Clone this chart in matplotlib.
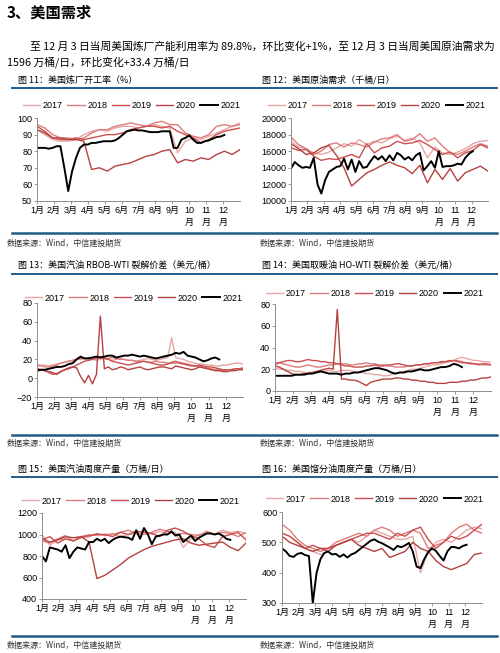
import numpy as np
import matplotlib; matplotlib.use("Agg")
import matplotlib.pyplot as plt
from matplotlib.lines import Line2D

plt.rcParams['font.family'] = ['Liberation Sans', 'Noto Sans CJK SC']
CJK = ['Noto Sans CJK SC', 'DejaVu Sans']

W, H = 500, 653
YEARS  = ["2017", "2018", "2019", "2020", "2021"]
COLORS = ["#E8A7A7", "#DF7B7B", "#C9504E", "#B5423F", "#000000"]
MONTHS = ["1月", "2月", "3月", "4月", "5月", "6月", "7月", "8月", "9月", "10\n月", "11\n月", "12\n月"]
RULE = "#1F5C8B"

# ─── Fig 11: refinery utilisation (%) ─ biweekly history, weekly 2021 ────────
util17 = [93, 90, 87, 86, 86, 87, 90, 92, 93, 92, 94, 95, 95, 94, 95, 96, 95, 94, 79, 86, 88, 87, 89, 91, 93, 95, 97]
util18 = [96, 94, 90, 88, 88, 87, 88, 91, 93, 93, 95, 96, 97, 96, 95, 97, 98, 96, 96, 91, 89, 88, 90, 95, 96, 95, 96]
util19 = [95, 92, 88, 87, 87, 88, 87, 88, 89, 90, 90, 91, 93, 94, 95, 95, 94, 95, 92, 90, 88, 85, 87, 90, 92, 93, 94]
util20 = [93, 91, 88, 88, 87, 87, 86, 69, 70, 68, 71, 72, 73, 75, 77, 78, 80, 81, 73, 75, 74, 76, 75, 78, 80, 78, 81]
util21 = [82, 82, 82, 81.5, 82, 83, 83, 70, 56, 68, 76, 82, 84, 84, 85, 85, 85.5, 86, 86, 86,
          86.5, 88, 90, 92, 92.5, 93, 92.5, 92.5, 92, 91.5, 91.5, 91.5, 92, 92, 92, 82, 82, 87, 88,
          89.5, 87, 85, 85, 86, 86.5, 87.5, 88.5, 88.8, 89.8]

# ─── Fig 12: crude demand (kb/d) ─────────────────────────────────────────────
dem17 = [17200, 16500, 16300, 15800, 15600, 15900, 16400, 16900, 16600, 17400, 16800, 17200, 17000, 17500,
         17800, 17300, 17600, 17000, 15200, 16500, 15800, 15600, 15900, 16300, 16900, 17200, 17300]
dem18 = [17700, 16800, 16300, 15600, 16000, 16800, 17000, 16500, 17000, 16800, 16500, 17100, 17500, 17600,
         18000, 17200, 17400, 18100, 17200, 17600, 16600, 15800, 15600, 16000, 16500, 16900, 16600]
dem19 = [16400, 16100, 16200, 15400, 14900, 15100, 15000, 15300, 15600, 15200, 16900, 15800, 16400, 16600,
         17200, 16900, 17000, 17300, 16800, 16200, 15600, 15900, 15200, 15800, 16100, 16800, 16400]
dem20 = [16900, 16300, 15600, 15800, 16400, 16700, 15500, 14000, 11800, 12600, 13400, 13800, 14300, 14700,
         14300, 14000, 13300, 14300, 12200, 13800, 12600, 13900, 12400, 13400, 13800, 14200, 13600]
dem21 = [13900, 14700, 14300, 14000, 14100, 14000, 15200, 12000, 10900, 12500, 13500, 13800, 14100, 14200,
         15100, 13800, 15000, 13500, 14800, 14000, 14100, 14800, 15400, 15000, 15400, 14800, 15500, 14900,
         15800, 15500, 15000, 15300, 14900, 15500, 15800, 13700, 14200, 14800, 14000, 16000, 14100, 14200,
         14200, 14300, 14500, 14400, 15200, 15700, 16000]

# ─── Fig 13: RBOB-WTI crack ($/bbl) ─ weekly ────────────────────────────────
rbob17 = [15, 14, 14, 13, 14, 15, 16, 17, 18, 19, 20, 20, 21, 21, 20, 19, 20, 21, 20, 19, 20, 21, 20, 19, 19, 18,
          19, 20, 21, 20, 19, 20, 21, 22, 43, 22, 21, 20, 18, 17, 16, 15, 15, 14, 14, 13, 13, 14, 14, 15, 16, 16, 15]
rbob18 = [13, 13, 12, 12, 13, 14, 16, 17, 18, 19, 20, 21, 21, 22, 22, 22, 23, 22, 21, 22, 21, 20, 20, 19, 19, 18,
          18, 18, 17, 17, 18, 17, 17, 16, 16, 16, 17, 16, 15, 14, 13, 12, 12, 11, 10, 9, 9, 8, 9, 9, 10, 10, 10]
rbob19 = [10, 9, 8, 6, 4, 5, 7, 9, 10, 12, 14, 16, 18, 19, 20, 21, 22, 21, 20, 18, 17, 16, 15, 14, 15, 16,
          17, 18, 17, 16, 15, 14, 14, 15, 17, 18, 16, 15, 14, 13, 13, 14, 13, 12, 12, 11, 10, 9, 9, 9, 10, 10, 11]
rbob20 = [10, 9, 8, 7, 6, 4, 7, 9, 11, 12, 11, 2, -5, 3, -6, 4, 66, 10, 12, 9, 10, 12, 11, 9, 10, 11,
          12, 10, 9, 10, 11, 12, 12, 11, 10, 13, 12, 11, 10, 9, 10, 12, 11, 10, 9, 8, 8, 7, 7, 8, 8, 9, 9]
rbob21 = [8, 9, 9, 10, 11, 12, 12, 13, 15, 16, 20, 23, 21, 21, 22, 23, 22, 23, 24, 24, 22, 23, 24, 24,
          25, 24, 23, 24, 23, 22, 21, 22, 23, 24, 25, 27, 26, 28, 24, 23, 22, 20, 18, 19, 21, 22, 20]

# ─── Fig 14: HO-WTI crack ($/bbl) ─ weekly ──────────────────────────────────
ho17 = [21, 20, 20, 19, 19, 18, 18, 17, 17, 17, 18, 18, 18, 19, 18, 18, 19, 19, 19, 18, 17, 17, 16, 16, 15, 15,
        14, 14, 15, 16, 17, 18, 19, 20, 20, 21, 22, 23, 24, 24, 25, 26, 27, 28, 30, 31, 30, 29, 28, 28, 27, 27, 26]
ho18 = [26, 26, 25, 24, 23, 22, 22, 23, 24, 23, 22, 22, 23, 24, 24, 25, 25, 25, 24, 24, 25, 25, 26, 25, 25, 24,
        24, 23, 23, 22, 22, 22, 23, 23, 24, 24, 25, 25, 26, 26, 26, 27, 27, 28, 28, 27, 26, 26, 25, 25, 24, 24, 24]
ho19 = [24, 26, 27, 28, 28, 27, 27, 28, 29, 28, 28, 27, 27, 26, 26, 25, 24, 23, 23, 22, 22, 22, 23, 23, 24, 23,
        23, 24, 24, 25, 25, 24, 23, 23, 24, 24, 25, 25, 26, 26, 27, 27, 28, 28, 27, 26, 26, 25, 25, 24, 25, 25, 24]
ho20 = [23, 22, 20, 18, 16, 15, 15, 16, 16, 17, 18, 19, 20, 21, 20, 75, 11, 11, 10, 10, 9, 7, 5, 8, 9, 10,
        11, 11, 11, 12, 12, 11, 11, 10, 10, 9, 9, 8, 8, 7, 7, 7, 8, 8, 8, 9, 9, 10, 10, 11, 12, 12, 13]
ho21 = [14, 14, 14, 14, 14, 15, 15, 15, 16, 16, 17, 18, 17, 16, 16, 16, 15, 16, 16, 17, 17, 18, 19,
        20, 21, 21, 20, 19, 17, 16, 17, 17, 18, 18, 19, 20, 19, 19, 20, 21, 22, 22, 23, 25, 24, 22]

# ─── Fig 15: gasoline output (10k b/d) ──────────────────────────────────────
gas17 = [1000, 900, 950, 960, 940, 980, 1000, 990, 1000, 1010, 980, 1000, 1010, 1040, 1000, 1030, 1010, 1020,
         880, 960, 1000, 1010, 1000, 1040, 1020, 1030, 1010]
gas18 = [940, 920, 960, 990, 940, 970, 980, 1010, 990, 1000, 1020, 1040, 1010, 1000, 1020, 1050, 1030, 1000,
         1010, 1000, 990, 1030, 1000, 1020, 1010, 980, 1020]
gas19 = [950, 980, 920, 960, 940, 980, 990, 1000, 1000, 980, 1020, 1000, 1030, 1020, 1010, 980, 1040, 1060,
         1030, 990, 960, 900, 880, 980, 1000, 1020, 950]
gas20 = [960, 930, 950, 980, 970, 980, 930, 590, 620, 670, 720, 780, 820, 860, 890, 910, 930, 950,
         960, 920, 900, 910, 920, 930, 880, 850, 920]
gas21 = [800, 750, 880, 870, 860, 840, 900, 780, 840, 880, 870, 860, 930, 930, 960, 940, 960, 920, 950, 970,
         980, 975, 970, 950, 1040, 960, 1060, 1000, 910, 980, 990, 1000, 1000, 1030, 990, 1000, 930, 960, 990,
         940, 970, 990, 1010, 1010, 1000, 1010, 990, 960, 950]

# ─── Fig 16: distillate output (10k b/d) ────────────────────────────────────
dist17 = [530, 520, 500, 480, 470, 460, 470, 490, 500, 510, 500, 520, 540, 530, 520, 510, 510, 520, 400,
          470, 500, 510, 500, 520, 540, 550, 545]
dist18 = [560, 540, 510, 490, 480, 470, 480, 500, 510, 520, 530, 520, 540, 550, 540, 520, 530, 540, 530,
          480, 490, 500, 530, 550, 560, 540, 530]
dist19 = [530, 520, 500, 480, 490, 480, 470, 490, 500, 510, 520, 530, 530, 520, 510, 530, 520, 540, 550,
          510, 480, 500, 520, 510, 520, 540, 560]
dist20 = [520, 500, 490, 480, 470, 480, 480, 490, 500, 510, 490, 480, 470, 480, 450, 460, 470, 500, 480,
          470, 440, 420, 410, 420, 430, 460, 465]
dist21 = [480, 470, 455, 452, 462, 465, 458, 455, 300, 400, 445, 465, 470, 460, 462, 452, 460, 450, 460, 465,
          475, 485, 495, 505, 510, 502, 497, 490, 483, 475, 488, 484, 490, 498, 470, 420, 415, 445, 468,
          480, 472, 455, 440, 470, 485, 484, 480, 488, 492]

BIWEEK = 12 / 26
WEEK = 12 / 52

fig = plt.figure(figsize=(W / 100, H / 100), dpi=100)


def ftext(x, y, s, **kw):
    kw.setdefault("va", "center")
    kw.setdefault("family", CJK)
    fig.text(x / W, 1 - y / H, s, **kw)


def rule(y, x0=12, x1=497, lw=1.6):
    fig.add_artist(Line2D([x0 / W, x1 / W], [1 - y / H] * 2, color=RULE, lw=lw))


def panel(box, series, steps, ylim, yticks, leg):
    x0, x1, ytop, ybot = box
    ax = fig.add_axes([x0 / W, 1 - ybot / H, (x1 - x0) / W, (ybot - ytop) / H])
    handles = []
    for vals, st, col, yr in zip(series, steps, COLORS, YEARS):
        lw = 1.4 if yr == "2021" else 1.0
        h, = ax.plot(np.arange(len(vals)) * st, vals, color=col, lw=lw, label=yr)
        handles.append(h)
    ax.set_xlim(0, 12); ax.set_ylim(*ylim)
    ax.set_yticks(yticks)
    ax.set_xticks(range(12)); ax.set_xticklabels(MONTHS)
    for lbl in ax.get_xticklabels():
        lbl.set_linespacing(1.5)
    for s in ("top", "right"):
        ax.spines[s].set_visible(False)
    for s in ("left", "bottom"):
        ax.spines[s].set_color("#8c8c8c"); ax.spines[s].set_linewidth(0.7)
    ax.tick_params(labelsize=6.5, length=2, width=0.6, color="#8c8c8c", pad=1.5)
    ax.patch.set_alpha(0)
    fig.legend(handles, YEARS, loc="center left", bbox_to_anchor=(leg[0] / W, 1 - leg[1] / H),
               ncol=5, frameon=False, fontsize=6.5, handlelength=1.9, handletextpad=0.3,
               columnspacing=0.5, borderaxespad=0, borderpad=0)
    return ax


# ─── page text ───────────────────────────────────────────────────────────────
ftext(7, 13, "3、美国需求", fontsize=11, fontweight="bold")
ftext(30, 47, "至 12 月 3 日当周美国炼厂产能利用率为 89.8%，环比变化+1%，至 12 月 3 日当周美国原油需求为", fontsize=7.75)
ftext(7, 62, "1596 万桶/日，环比变化+33.4 万桶/日", fontsize=7.75)

rows = [(80, 88, 233, 243), (265, 274, 435, 443), (469, 477, 636, 645)]
titles = [("图 11：美国炼厂开工率（%）", "图 12：美国原油需求（千桶/日）"),
          ("图 13：美国汽油 RBOB-WTI 裂解价差（美元/桶）", "图 14：美国取暖油 HO-WTI 裂解价差（美元/桶）"),
          ("图 15：美国汽油周度产量（万桶/日）", "图 16：美国馏分油周度产量（万桶/日）")]
for (ty, r1, r2, sy), (tl, tr) in zip(rows, titles):
    ftext(18, ty, tl, fontsize=6.5)
    ftext(262, ty, tr, fontsize=6.5)
    rule(r1, lw=1.4)
    rule(r2, lw=1.8)
    ftext(7, sy, "数据来源：Wind，中信建投期货", fontsize=5.8, style="italic", color="#333333")
    ftext(260, sy, "数据来源：Wind，中信建投期货", fontsize=5.8, style="italic", color="#333333")

# ─── charts ──────────────────────────────────────────────────────────────────
panel((37, 240, 118, 201), [util17, util18, util19, util20, util21],
      [BIWEEK] * 4 + [WEEK], (50, 100), range(50, 101, 10), (23, 106))
panel((291, 488, 118, 201), [dem17, dem18, dem19, dem20, dem21],
      [BIWEEK] * 4 + [WEEK], (10000, 20000), range(10000, 20001, 2000), (268, 106))
panel((37, 243, 303, 397), [rbob17, rbob18, rbob19, rbob20, rbob21],
      [WEEK] * 5, (-20, 80), range(-20, 81, 20), (25, 298))
panel((275, 491, 304, 391), [ho17, ho18, ho19, ho20, ho21],
      [WEEK] * 5, (0, 80), range(0, 81, 20), (266, 294))
panel((42, 246, 513, 599), [gas17, gas18, gas19, gas20, gas21],
      [BIWEEK] * 4 + [WEEK], (400, 1200), range(400, 1201, 200), (22, 501))
panel((282, 482, 512, 603), [dist17, dist18, dist19, dist20, dist21],
      [BIWEEK] * 4 + [WEEK], (300, 600), range(300, 601, 100), (266, 499))

fig.savefig("out.png", dpi=100)
print("Saved out.png")
